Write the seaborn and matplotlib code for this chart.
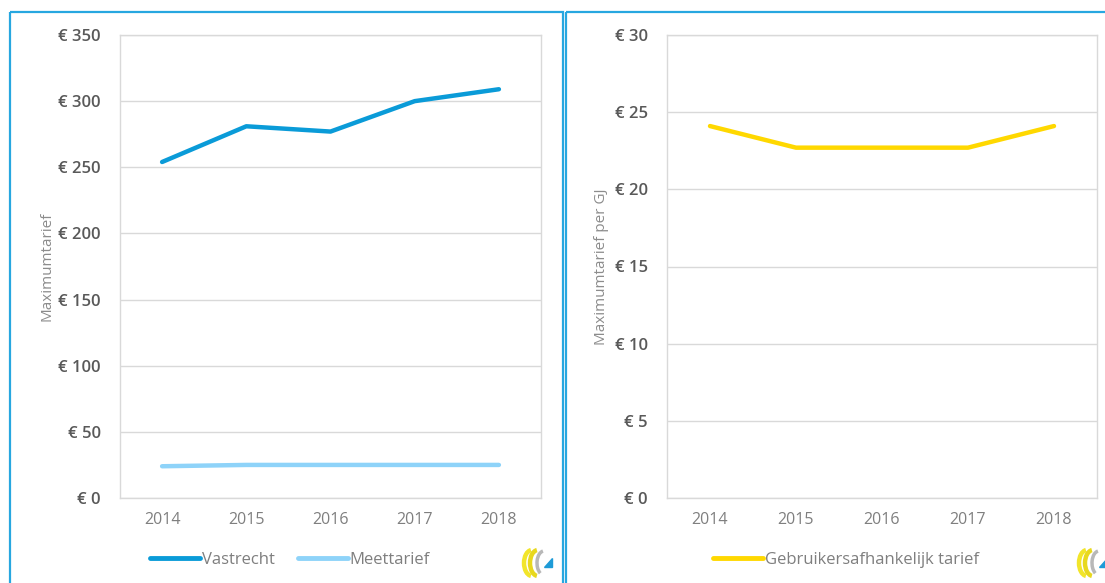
import pandas as pd
import numpy as np
import matplotlib
matplotlib.use("Agg")
from matplotlib import pyplot as plt
from matplotlib.patches import Rectangle, Arc, Polygon
from matplotlib.ticker import FuncFormatter
import seaborn as sns

# values
years = ["2014", "2015", "2016", "2017", "2018"]
vastrecht = [254, 281, 277, 300, 309]
meettarief = [24, 25, 25, 25, 25]
gebruik = [24.1, 22.7, 22.7, 22.7, 24.1]

left_ticks = [0, 50, 100, 150, 200, 250, 300, 350]
right_ticks = [0, 5, 10, 15, 20, 25, 30]

colors = {"Vastrecht": "#0A9BD8", "Meettarief": "#8ED3F9",
          "Gebruikersafhankelijk tarief": "#FFD800"}

sns.set_style("white")
plt.rcParams["font.family"] = ["Open Sans", "DejaVu Sans"]

df_left = pd.DataFrame({
    "jaar": years * 2,
    "tarief": vastrecht + meettarief,
    "reeks": ["Vastrecht"] * 5 + ["Meettarief"] * 5,
})
df_right = pd.DataFrame({
    "jaar": years,
    "tarief": gebruik,
    "reeks": ["Gebruikersafhankelijk tarief"] * 5,
})

W, H = 1105, 583
fig = plt.figure(figsize=(W / 100, H / 100), dpi=100)

# overlay in pixel units for frames and the small logos
bg = fig.add_axes([0, 0, 1, 1], zorder=-1)
bg.set_xlim(0, W)
bg.set_ylim(H, 0)
bg.axis("off")
bg.add_patch(Rectangle((10, 12), 553, H, fill=False, edgecolor="#27A7E0", lw=1.6))
bg.add_patch(Rectangle((566, 12), 600, H, fill=False, edgecolor="#27A7E0", lw=1.6))


def logo(x0, y0):
    bg.add_patch(Arc((x0 + 10, y0 + 14), 16, 26, theta1=95, theta2=265,
                     color="#F2E52A", lw=3.2))
    bg.add_patch(Arc((x0 + 16, y0 + 14), 16, 26, theta1=95, theta2=265,
                     color="#E8D81E", lw=3.2))
    bg.add_patch(Arc((x0 + 22, y0 + 14), 14, 24, theta1=110, theta2=265,
                     color="#B8B8B8", lw=2.5))
    bg.add_patch(Polygon([[x0 + 22, y0 + 18], [x0 + 30, y0 + 18], [x0 + 30, y0 + 9]],
                         closed=True, color="#1E9BD7"))


logo(522, 549)
logo(1077, 549)

ax1 = fig.add_axes([120 / W, (H - 498) / H, 421 / W, 463 / H])
ax2 = fig.add_axes([667 / W, (H - 498) / H, 430 / W, 463 / H])


def style_axis(ax, df, ticks, ylabel, leg_center, ncol):
    sns.lineplot(data=df, x="jaar", y="tarief", hue="reeks", palette=colors,
                 lw=3.2, ax=ax, sort=False, legend=True)
    ax.set_xlim(-0.5, 4.5)
    ax.set_ylim(ticks[0], ticks[-1])
    ax.set_yticks(ticks)
    ax.yaxis.set_major_formatter(FuncFormatter(lambda v, p: "€ %d" % v))
    ax.grid(axis="y", color="#D9D9D9", lw=1)
    ax.set_axisbelow(True)
    for s in ax.spines.values():
        s.set_color("#D9D9D9")
        s.set_linewidth(1)
    ax.tick_params(axis="y", length=0, pad=14, labelsize=12, labelcolor="#595959")
    ax.tick_params(axis="x", length=0, pad=10, labelsize=11.5, labelcolor="#7F7F7F")
    for t in ax.get_yticklabels():
        t.set_fontweight("semibold")
    ax.set_xlabel("")
    ax.set_ylabel(ylabel, color="#8C8C8C", fontsize=11)
    handles, labels = ax.get_legend_handles_labels()
    ax.legend(handles, labels, loc="center", bbox_to_anchor=leg_center,
              bbox_transform=fig.transFigure, ncol=ncol, frameon=False,
              handlelength=3.0, handletextpad=0.1, columnspacing=1.4,
              fontsize=12, labelcolor="#7F7F7F")
    for line in ax.get_legend().get_lines():
        line.set_linewidth(3.5)


style_axis(ax1, df_left, left_ticks, "Maximumtarief", (290 / W, (H - 560) / H), 2)
style_axis(ax2, df_right, right_ticks, "Maximumtarief per GJ", (846 / W, (H - 560) / H), 1)
ax1.yaxis.set_label_coords(-0.155, 0.5)
ax2.yaxis.set_label_coords(-0.135, 0.5)

fig.savefig("out.png", dpi=100)
